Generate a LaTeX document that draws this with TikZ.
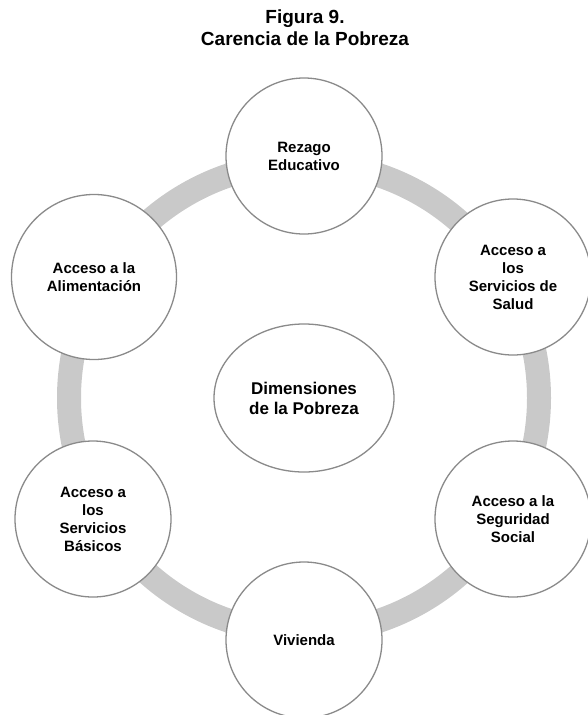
\documentclass[tikz,border=0pt]{standalone}
\usepackage{fontspec}
\setmainfont{Liberation Sans}
\usetikzlibrary{shapes.geometric}
\definecolor{ringgray}{HTML}{C9C9C9}
\definecolor{edgegray}{HTML}{8A8A8A}
\begin{document}
\begin{tikzpicture}[x=1pt,y=-1pt,
    dimension/.style={circle,draw=edgegray,line width=1.3pt,fill=white,
      minimum size=156pt,inner sep=0pt,align=center,
      font=\fontsize{15}{18}\selectfont\bfseries},
    hubshape/.style={ellipse,draw=edgegray,line width=1.3pt,fill=white,
      minimum width=180pt,minimum height=148pt,inner sep=0pt,align=center,
      font=\fontsize{17}{20}\selectfont\bfseries}]
    \useasboundingbox (0,0) rectangle (587,715);

    % Title
    \node[align=center,font=\fontsize{19}{22}\selectfont\bfseries] (title) at (305,28)
      {Figura 9.\\Carencia de la Pobreza};

    % Ring behind the circles
    \coordinate (middle) at (304,398);
    \draw[ringgray,line width=24pt] (middle) circle[radius=235pt];

    % Centre
    \node[hubshape] (hub) at (middle) {Dimensiones\\de la Pobreza};

    % Dimensions, clockwise from the top
    \node[dimension] (rezago) at (304,156) {Rezago\\Educativo};
    \node[dimension] (salud) at (513,277) {Acceso a\\los\\Servicios de\\Salud};
    \node[dimension] (seguridad) at (513,519) {Acceso a la\\Seguridad\\Social};
    \node[dimension] (vivienda) at (304,640) {Vivienda};
    \node[dimension] (basicos) at (93,519) {Acceso a\\los\\Servicios\\B\'asicos};
    \node[dimension,minimum size=165pt] (alimentacion) at (94,277) {Acceso a la\\Alimentaci\'on};
\end{tikzpicture}
\end{document}
